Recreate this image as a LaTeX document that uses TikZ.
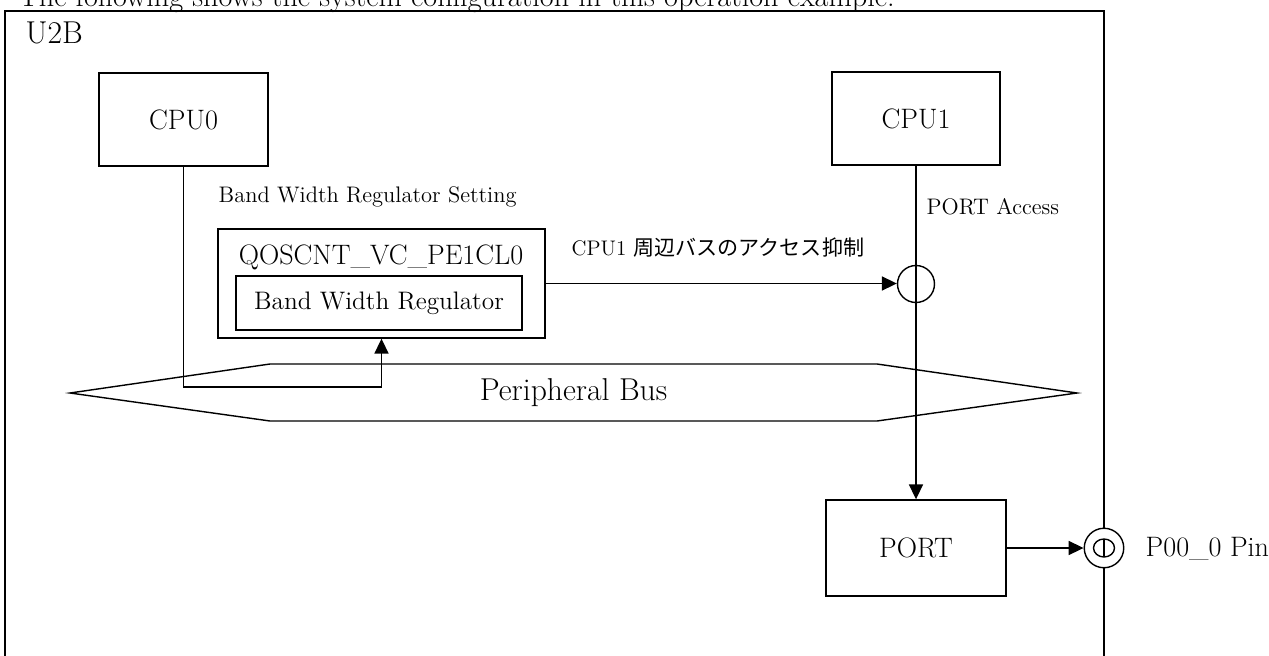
\documentclass[tikz,border=0pt]{standalone}
\usepackage{fontspec}
\newfontfamily\jpfont{Noto Sans CJK JP}
\usetikzlibrary{arrows.meta}

\begin{document}
\begin{tikzpicture}[x=0.02cm, y=-0.02cm, line width=0.8pt,
        block/.style={draw, inner sep=0pt, font=\fontsize{16}{18}\selectfont},
        note/.style={inner sep=0pt, font=\fontsize{12.8}{14}\selectfont},
        arr/.style={-{Triangle[length=8.5pt,width=8pt]}}]
        \clip (0,0) rectangle (1269,656);

        % chip outline
        \draw (5,656) -- (5,11) -- (1104,11) -- (1104,656);
        \node[anchor=base west, inner sep=0pt, font=\fontsize{17.2}{20}\selectfont] (title) at (18,6) {The following shows the system configuration in this operation example.};
        \node[anchor=west, inner sep=0pt, font=\fontsize{18}{20}\selectfont] (chip) at (25,32.5) {U2B};

        % masters and port
        \node[block, minimum width=3.38cm, minimum height=1.86cm] (cpu0) at (183.5,119.5) {CPU0};
        \node[block, minimum width=3.36cm, minimum height=1.86cm] (cpu1) at (916,118.5) {CPU1};
        \node[block, minimum width=3.6cm, minimum height=1.92cm] (port) at (916,548) {PORT};

        % regulator
        \node[block, minimum width=6.54cm, minimum height=2.18cm] (qos) at (381.5,283.5) {};
        \node[inner sep=0pt, font=\fontsize{16}{18}\selectfont] (qosname) at (381,257) {QOSCNT\_VC\_PE1CL0};
        \node[block, minimum width=5.72cm, minimum height=1.08cm, font=\fontsize{14.4}{16}\selectfont] (bwr) at (379,303) {Band Width Regulator};
        \node[note, anchor=west] (setting) at (218,197) {Band Width Regulator Setting};
        \node[note, anchor=west, font=\fontsize{12}{14}\selectfont] (limit) at (571,248) {CPU1 {\jpfont 周辺バスのアクセス抑制}};
        \node[note, anchor=west] (access) at (926,207) {PORT Access};
        \node[draw, circle, minimum size=0.74cm, inner sep=0pt] (junc) at (916,284) {};

        % peripheral bus
        \draw (70,393) -- (270,364) -- (877,364) -- (1077,393) -- (877,421) -- (270,421) -- cycle;
        \node[inner sep=0pt, font=\fontsize{18}{20}\selectfont] (bus) at (573.5,393) {Peripheral Bus};

        % pin
        \node[draw, circle, fill=white, minimum size=0.79cm, inner sep=0pt] (pin) at (1104,548) {};
        \draw (pin.center) ellipse (10.5 and 9);
        \draw (pin.center) ++(0,-9) -- ++(0,18);
        \node[anchor=west, inner sep=0pt, font=\fontsize{16}{18}\selectfont] (pinname) at (1145,549) {P00\_0 Pin};

        % connectors
        \coordinate (tap) at (381.5,387);
        \draw[arr] (cpu0.south) |- (tap) -- (qos.south);
        \draw[arr] (qos.east) -- (qos.east -| junc.west);
        \draw[arr] (cpu1.south) -- (port.north);
        \draw[arr] (port.east) -- (pin.west);
\end{tikzpicture}
\end{document}
